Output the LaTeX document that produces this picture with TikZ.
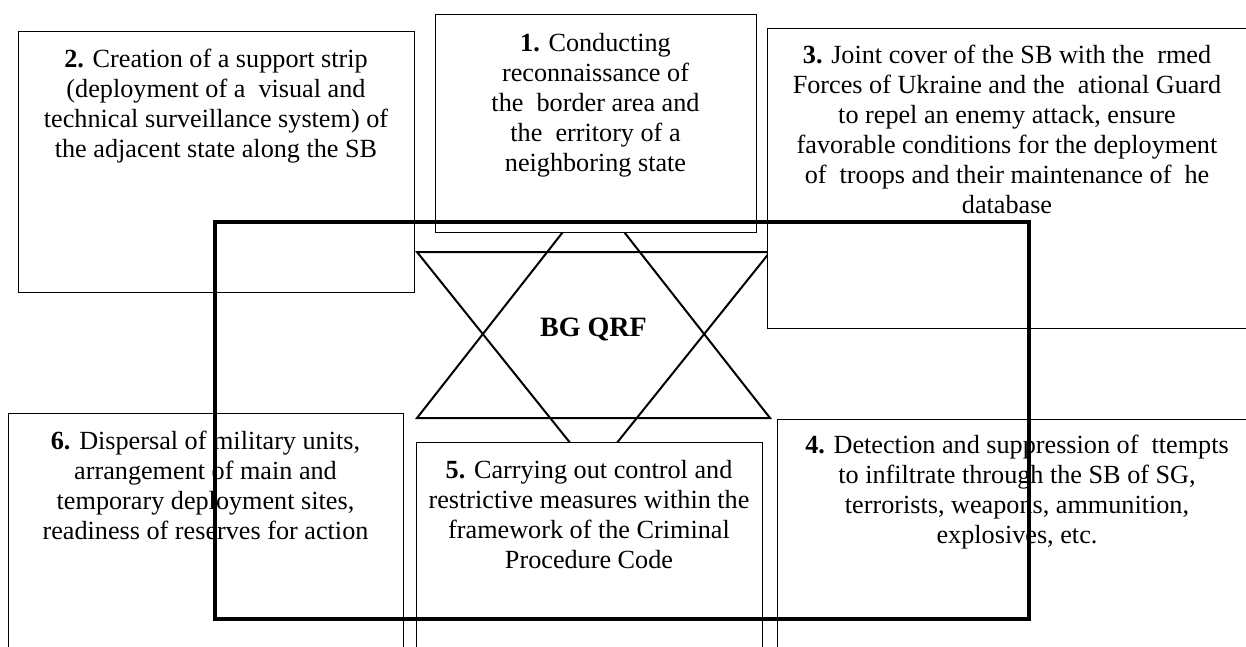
\documentclass[tikz,border=0pt]{standalone}
\usepackage{fontspec}
\setmainfont{Liberation Serif}
\begin{document}
\begin{tikzpicture}[x=1pt,y=-1pt,
  box/.style={draw=black, line width=1pt, fill=white},
  txt/.style={align=center, inner sep=0pt, anchor=north, font=\fontsize{26.2}{30}\selectfont},
  starline/.style={draw=black, line width=2pt, line join=miter},
  frame/.style={draw=black, line width=3.5pt}]
\useasboundingbox (0,0) rectangle (1246,647);
\clip (0,0) rectangle (1246,647);
% star
\coordinate (uL) at (417,418); \coordinate (uR) at (770,418); \coordinate (uT) at (593.5,193);
\coordinate (dL) at (417,252); \coordinate (dR) at (770,252); \coordinate (dB) at (593.5,472);
\draw[starline] (uL) -- (uR) -- (uT) -- cycle;
\draw[starline] (dL) -- (dR) -- (dB) -- cycle;
\node[font=\fontsize{28}{32}\selectfont\bfseries, inner sep=0pt] (core) at (593.5,329) {BG QRF};
% boxes
\draw[box] (435,15) rectangle (756,232);
\node[txt] (t1) at (595.5,33) {\textbf{1.} Conducting\\ reconnaissance of\\ the~~border area and\\ the~~erritory of a\\ neighboring state};
\draw[box] (18,32) rectangle (414,292);
\node[txt] (t2) at (216,49) {\textbf{2.} Creation of a support strip\\ (deployment of a~~visual and\\ technical surveillance system) of\\ the adjacent state along the SB};
\draw[box] (767,29) rectangle (1248,328);
\node[txt] (t3) at (1007,45) {\textbf{3.} Joint cover of the SB with the~~rmed\\ Forces of Ukraine and the~~ational Guard\\ to repel an enemy attack, ensure\\ favorable conditions for the deployment\\ of~~troops and their maintenance of~~he\\ database};
\draw[box] (777,419) rectangle (1260,660);
\node[txt] (t4) at (1017,435) {\textbf{4.} Detection and suppression of~~ttempts\\ to infiltrate through the SB of SG,\\ terrorists, weapons, ammunition,\\ explosives, etc.};
\draw[box] (416,442) rectangle (762,660);
\node[txt] (t5) at (589,460) {\textbf{5.} Carrying out control and\\ restrictive measures within the\\ framework of the Criminal\\ Procedure Code};
\draw[box] (8,413) rectangle (403,660);
\node[txt] (t6) at (205.5,431) {\textbf{6.} Dispersal of military units,\\ arrangement of main and\\ temporary deployment sites,\\ readiness of reserves for action};
% frame
\draw[frame] (215,222) rectangle (1029,619);
\end{tikzpicture}
\end{document}
